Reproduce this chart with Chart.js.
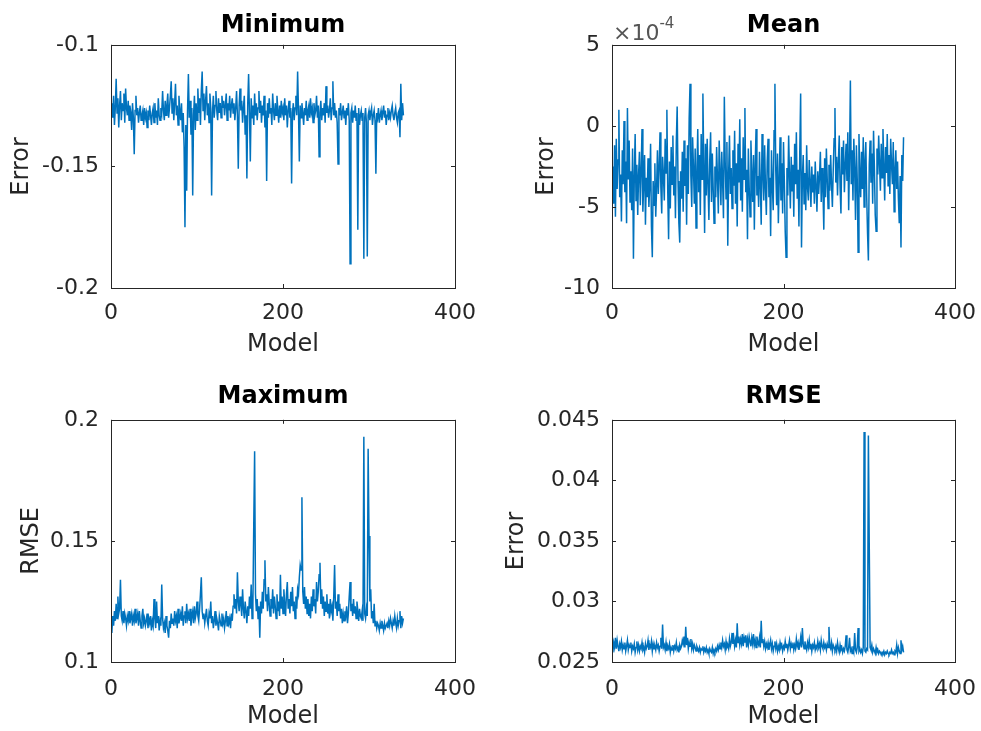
<!DOCTYPE html>
<html>
<head>
<meta charset="utf-8">
<script src="https://cdn.jsdelivr.net/npm/chart.js@4/dist/chart.umd.min.js"></script>
<style>
  body { margin: 0; background: #fff; }
  #wrap { position: relative; width: 981px; height: 731px; }
  canvas { position: absolute; }
</style>
</head>
<body>
<div id="wrap">
  <canvas id="cMin" width="490" height="365" style="left:0;top:0"></canvas>
  <canvas id="cMean" width="491" height="365" style="left:490px;top:0"></canvas>
  <canvas id="cMax" width="490" height="366" style="left:0;top:365px"></canvas>
  <canvas id="cRmse" width="491" height="366" style="left:490px;top:365px"></canvas>
</div>
<script>
// model index runs 1..340 for every panel
const minimumErr = [
  -0.124,-0.130,-0.121,-0.133,-0.126,-0.114,-0.128,-0.122,-0.134,-0.125,
  -0.119,-0.131,-0.124,-0.127,-0.120,-0.132,-0.118,-0.126,-0.129,-0.123,
  -0.131,-0.125,-0.128,-0.135,-0.124,-0.130,-0.145,-0.127,-0.121,-0.129,
  -0.126,-0.132,-0.128,-0.125,-0.131,-0.129,-0.127,-0.133,-0.126,-0.130,
  -0.128,-0.134,-0.127,-0.131,-0.125,-0.129,-0.133,-0.128,-0.126,-0.132,
  -0.124,-0.130,-0.127,-0.133,-0.122,-0.129,-0.131,-0.126,-0.128,-0.119,
  -0.127,-0.131,-0.123,-0.129,-0.125,-0.120,-0.130,-0.126,-0.121,-0.115,
  -0.128,-0.122,-0.131,-0.124,-0.116,-0.129,-0.125,-0.133,-0.121,-0.127,
  -0.131,-0.124,-0.136,-0.128,-0.142,-0.175,-0.133,-0.160,-0.127,-0.112,
  -0.130,-0.123,-0.137,-0.126,-0.162,-0.129,-0.121,-0.135,-0.124,-0.131,
  -0.118,-0.128,-0.122,-0.133,-0.119,-0.111,-0.127,-0.120,-0.131,-0.123,
  -0.117,-0.129,-0.124,-0.132,-0.120,-0.126,-0.162,-0.128,-0.121,-0.130,
  -0.125,-0.119,-0.127,-0.131,-0.122,-0.128,-0.124,-0.130,-0.121,-0.126,
  -0.123,-0.129,-0.125,-0.120,-0.131,-0.124,-0.127,-0.121,-0.130,-0.125,
  -0.122,-0.128,-0.124,-0.131,-0.126,-0.119,-0.129,-0.151,-0.125,-0.118,
  -0.127,-0.123,-0.132,-0.126,-0.121,-0.137,-0.129,-0.155,-0.124,-0.112,
  -0.128,-0.148,-0.122,-0.130,-0.125,-0.133,-0.120,-0.129,-0.124,-0.131,
  -0.126,-0.119,-0.128,-0.123,-0.132,-0.125,-0.129,-0.121,-0.134,-0.127,
  -0.156,-0.124,-0.130,-0.122,-0.128,-0.126,-0.133,-0.120,-0.127,-0.131,
  -0.124,-0.129,-0.121,-0.127,-0.132,-0.125,-0.130,-0.123,-0.128,-0.126,
  -0.131,-0.122,-0.129,-0.125,-0.134,-0.127,-0.123,-0.130,-0.126,-0.157,
  -0.128,-0.124,-0.131,-0.126,-0.121,-0.129,-0.111,-0.127,-0.148,-0.125,
  -0.130,-0.124,-0.128,-0.133,-0.126,-0.129,-0.123,-0.131,-0.127,-0.125,
  -0.130,-0.122,-0.128,-0.126,-0.132,-0.124,-0.129,-0.127,-0.121,-0.130,
  -0.125,-0.146,-0.128,-0.123,-0.131,-0.126,-0.129,-0.124,-0.132,-0.117,
  -0.128,-0.125,-0.130,-0.127,-0.122,-0.131,-0.126,-0.115,-0.129,-0.124,
  -0.130,-0.127,-0.132,-0.149,-0.126,-0.129,-0.124,-0.131,-0.128,-0.125,
  -0.130,-0.127,-0.133,-0.126,-0.129,-0.124,-0.131,-0.190,-0.128,-0.126,
  -0.132,-0.127,-0.130,-0.125,-0.131,-0.128,-0.176,-0.126,-0.133,-0.129,
  -0.127,-0.131,-0.128,-0.188,-0.130,-0.126,-0.132,-0.187,-0.129,-0.127,
  -0.131,-0.128,-0.126,-0.133,-0.129,-0.127,-0.131,-0.153,-0.128,-0.130,
  -0.126,-0.132,-0.129,-0.127,-0.131,-0.128,-0.125,-0.130,-0.127,-0.133,
  -0.129,-0.126,-0.131,-0.128,-0.130,-0.127,-0.125,-0.129,-0.131,-0.128,
  -0.126,-0.130,-0.132,-0.128,-0.127,-0.138,-0.116,-0.131,-0.124,-0.129
];

// mean error, in units of 1e-4 (axis shows the x10^-4 factor)
const meanErrE4 = [
  -2.5,-4.8,-1.2,-5.6,-0.8,-3.9,-2.1,1.0,-4.4,-3.0,
  -5.9,-1.5,-3.6,0.3,-4.1,-2.2,-6.0,1.1,-3.3,-0.9,
  -4.7,-2.8,-5.2,-1.4,-8.2,-3.1,-0.5,-4.6,-2.4,-5.5,
  -3.0,-1.6,-4.9,-2.7,-0.2,-5.3,-3.5,-1.8,-6.1,-3.2,
  -4.4,-2.0,-5.0,-3.7,-1.1,-6.2,-8.1,-3.4,-4.9,-2.3,
  -5.6,-3.9,-1.5,-4.2,-2.6,-0.4,-3.8,-5.4,-1.9,-3.1,
  -4.6,-0.8,-2.9,1.0,-4.0,-7.0,-2.2,-5.1,-1.3,-3.6,
  -0.6,-4.3,-2.5,-5.7,-1.0,1.2,-3.4,-6.0,-7.2,-2.8,
  -4.5,-1.6,-5.3,-0.9,-3.7,-2.0,-6.1,-1.2,-4.2,0.5,
  2.6,-3.1,-5.0,-0.7,-2.6,-4.8,-1.4,-6.3,-2.9,-0.2,
  -4.1,-1.8,-5.5,-0.5,-3.3,2.0,-2.4,-6.6,-1.1,-4.3,
  -0.8,-3.6,-5.8,-2.1,-0.4,-4.7,-1.7,-3.9,-6.0,-2.5,
  -4.4,-1.3,-3.2,-5.4,-0.9,-2.8,-4.9,-1.6,-3.4,-5.7,
  1.8,-2.2,-4.5,-1.0,-7.4,-3.0,-0.6,-4.2,-2.6,-5.1,
  -1.5,-3.7,-0.3,-4.8,-2.3,-6.2,-1.1,-3.5,0.4,-4.6,
  -2.0,-5.3,-0.7,-3.3,1.1,-4.1,-2.7,-7.0,-1.4,-3.8,
  -5.6,-0.9,-3.0,-4.7,-1.8,-6.4,-2.4,-0.2,-4.3,-3.1,
  -5.0,-1.6,-3.6,-6.1,-0.5,-2.9,-4.6,-1.2,-3.9,-5.5,
  -2.2,-0.8,-4.4,-3.2,-6.8,-1.5,-3.7,-5.2,-0.3,2.6,
  -2.8,-4.9,-1.7,-6.0,-3.4,-0.7,-4.6,-2.3,-5.4,-1.0,
  -3.5,-6.5,-8.1,-2.6,-4.3,-0.6,-3.0,-5.1,-1.9,-4.0,
  -2.4,-5.6,-1.1,-3.6,-0.4,-4.5,-2.7,-6.2,-1.5,2.0,
  -7.5,-3.2,-1.8,-4.8,-2.9,-5.2,-1.2,-3.8,-4.6,-2.1,
  -3.4,-5.0,-2.5,-4.1,-3.0,-4.8,-2.2,-3.7,-5.3,-2.8,
  -4.2,-3.1,-1.6,-4.7,-2.6,-3.9,-6.4,-2.0,-4.4,-1.4,
  -3.3,-5.1,-2.4,-4.0,-1.8,-3.6,-5.0,-2.7,-0.8,1.1,
  -3.5,-1.9,-4.3,-2.2,-0.6,-3.8,-5.4,-1.3,-3.0,-0.9,
  -4.1,-2.5,-1.1,-3.4,-0.4,-5.2,-2.0,2.8,-3.6,-1.5,
  -4.6,-0.8,-2.7,-5.8,-1.2,-3.3,-7.8,-0.5,-2.9,-4.4,
  -1.6,-3.9,-0.7,-5.0,-2.2,-1.0,-4.3,-6.6,-8.3,-2.4,
  -0.9,-3.5,-1.7,-4.8,-0.3,-2.6,-5.5,-6.5,-1.4,-3.0,
  -0.6,-2.3,-4.0,-1.1,-3.2,-0.2,-2.5,-4.6,-1.3,-2.9,
  -0.5,-3.7,-1.8,-4.2,-0.8,-2.4,-3.6,-1.0,-5.3,-2.7,
  -1.5,-3.9,-2.2,-4.5,-6.0,-3.1,-7.5,-1.8,-3.4,-0.7
];

const maximumErr = [
  0.112,0.119,0.115,0.121,0.117,0.124,0.118,0.127,0.120,0.122,
  0.134,0.119,0.117,0.121,0.116,0.120,0.118,0.115,0.119,0.117,
  0.121,0.116,0.118,0.120,0.115,0.119,0.117,0.122,0.116,0.118,
  0.120,0.115,0.121,0.117,0.114,0.119,0.122,0.116,0.118,0.115,
  0.117,0.120,0.114,0.118,0.116,0.119,0.113,0.117,0.115,0.126,
  0.118,0.114,0.125,0.116,0.119,0.113,0.117,0.115,0.132,0.118,
  0.114,0.116,0.112,0.119,0.115,0.113,0.110,0.117,0.114,0.120,
  0.116,0.118,0.115,0.121,0.117,0.119,0.114,0.122,0.116,0.118,
  0.120,0.117,0.123,0.115,0.119,0.121,0.116,0.124,0.118,0.120,
  0.117,0.122,0.115,0.119,0.121,0.116,0.123,0.118,0.120,0.125,
  0.119,0.117,0.122,0.128,0.135,0.121,0.118,0.120,0.116,0.119,
  0.122,0.117,0.115,0.120,0.118,0.125,0.116,0.119,0.114,0.117,
  0.121,0.115,0.118,0.116,0.113,0.119,0.117,0.115,0.120,0.116,
  0.118,0.114,0.117,0.121,0.115,0.119,0.116,0.118,0.114,0.120,
  0.117,0.123,0.128,0.122,0.126,0.120,0.137,0.125,0.121,0.127,
  0.124,0.119,0.130,0.122,0.118,0.125,0.121,0.116,0.123,0.119,
  0.127,0.122,0.132,0.118,0.124,0.157,0.187,0.128,0.121,0.126,
  0.118,0.123,0.110,0.125,0.120,0.129,0.122,0.134,0.142,0.125,
  0.128,0.121,0.131,0.124,0.119,0.126,0.122,0.130,0.120,0.127,
  0.123,0.118,0.128,0.121,0.125,0.119,0.136,0.122,0.127,0.120,
  0.130,0.124,0.119,0.128,0.133,0.122,0.126,0.120,0.129,0.123,
  0.131,0.121,0.125,0.118,0.127,0.122,0.130,0.128,0.135,0.140,
  0.138,0.168,0.129,0.124,0.131,0.122,0.127,0.120,0.126,0.119,
  0.124,0.118,0.127,0.121,0.130,0.123,0.126,0.120,0.133,0.125,
  0.129,0.136,0.141,0.124,0.130,0.122,0.127,0.119,0.125,0.121,
  0.128,0.120,0.124,0.118,0.126,0.121,0.123,0.117,0.127,0.140,
  0.122,0.125,0.119,0.128,0.121,0.124,0.118,0.122,0.116,0.120,
  0.117,0.121,0.119,0.123,0.116,0.120,0.127,0.133,0.121,0.124,
  0.119,0.126,0.120,0.123,0.118,0.125,0.121,0.117,0.122,0.119,
  0.118,0.121,0.117,0.193,0.120,0.118,0.122,0.119,0.188,0.152,
  0.125,0.130,0.118,0.121,0.116,0.124,0.115,0.117,0.114,0.116,
  0.115,0.113,0.116,0.114,0.117,0.115,0.113,0.116,0.114,0.115,
  0.116,0.114,0.117,0.115,0.118,0.116,0.114,0.117,0.115,0.119,
  0.116,0.114,0.118,0.115,0.117,0.121,0.114,0.119,0.116,0.118
];

const rmseErr = [
  0.0258,0.0266,0.0262,0.0270,0.0261,0.0268,0.0263,0.0259,0.0265,0.0262,
  0.0267,0.0260,0.0264,0.0261,0.0266,0.0259,0.0263,0.0268,0.0260,0.0264,
  0.0262,0.0266,0.0259,0.0263,0.0261,0.0265,0.0258,0.0262,0.0267,0.0260,
  0.0264,0.0259,0.0263,0.0261,0.0266,0.0260,0.0262,0.0258,0.0265,0.0261,
  0.0263,0.0268,0.0260,0.0264,0.0262,0.0267,0.0259,0.0265,0.0261,0.0263,
  0.0260,0.0266,0.0262,0.0264,0.0259,0.0263,0.0270,0.0261,0.0281,0.0262,
  0.0264,0.0260,0.0266,0.0259,0.0263,0.0261,0.0265,0.0258,0.0262,0.0260,
  0.0264,0.0259,0.0263,0.0261,0.0266,0.0260,0.0262,0.0258,0.0264,0.0261,
  0.0263,0.0268,0.0265,0.0271,0.0262,0.0279,0.0264,0.0270,0.0261,0.0266,
  0.0263,0.0269,0.0261,0.0265,0.0260,0.0264,0.0262,0.0259,0.0263,0.0261,
  0.0259,0.0262,0.0258,0.0261,0.0260,0.0263,0.0258,0.0261,0.0259,0.0262,
  0.0258,0.0260,0.0257,0.0261,0.0259,0.0258,0.0262,0.0257,0.0260,0.0258,
  0.0261,0.0259,0.0263,0.0260,0.0264,0.0261,0.0266,0.0262,0.0268,0.0263,
  0.0265,0.0260,0.0267,0.0262,0.0264,0.0261,0.0269,0.0263,0.0266,0.0274,
  0.0265,0.0270,0.0263,0.0268,0.0262,0.0282,0.0266,0.0271,0.0264,0.0269,
  0.0265,0.0273,0.0263,0.0270,0.0266,0.0272,0.0262,0.0269,0.0264,0.0271,
  0.0267,0.0263,0.0270,0.0265,0.0273,0.0264,0.0268,0.0262,0.0271,0.0266,
  0.0264,0.0270,0.0262,0.0284,0.0266,0.0269,0.0263,0.0267,0.0261,0.0265,
  0.0262,0.0266,0.0260,0.0264,0.0268,0.0261,0.0265,0.0259,0.0263,0.0267,
  0.0261,0.0265,0.0259,0.0263,0.0260,0.0266,0.0262,0.0264,0.0259,0.0263,
  0.0261,0.0267,0.0262,0.0265,0.0260,0.0264,0.0268,0.0261,0.0265,0.0262,
  0.0266,0.0260,0.0264,0.0261,0.0269,0.0263,0.0266,0.0260,0.0264,0.0270,
  0.0262,0.0278,0.0265,0.0261,0.0267,0.0263,0.0260,0.0266,0.0262,0.0268,
  0.0261,0.0265,0.0259,0.0264,0.0262,0.0266,0.0260,0.0263,0.0261,0.0267,
  0.0262,0.0265,0.0260,0.0268,0.0263,0.0261,0.0266,0.0262,0.0264,0.0260,
  0.0265,0.0262,0.0279,0.0263,0.0261,0.0266,0.0259,0.0264,0.0262,0.0260,
  0.0263,0.0259,0.0266,0.0261,0.0258,0.0264,0.0260,0.0262,0.0258,0.0261,
  0.0259,0.0263,0.0272,0.0260,0.0258,0.0262,0.0270,0.0259,0.0261,0.0257,
  0.0263,0.0259,0.0274,0.0260,0.0258,0.0262,0.0278,0.0259,0.0261,0.0258,
  0.0260,0.0257,0.0262,0.0440,0.0259,0.0258,0.0261,0.0260,0.0437,0.0347,
  0.0262,0.0260,0.0264,0.0258,0.0261,0.0259,0.0257,0.0262,0.0258,0.0260,
  0.0257,0.0259,0.0258,0.0256,0.0258,0.0257,0.0259,0.0256,0.0258,0.0257,
  0.0259,0.0257,0.0256,0.0258,0.0257,0.0260,0.0257,0.0258,0.0256,0.0259,
  0.0258,0.0264,0.0257,0.0262,0.0259,0.0257,0.0268,0.0260,0.0263,0.0258
];

const xTicks = [0, 200, 400];

const FONT = "'DejaVu Sans', sans-serif";
const AX_COLOR = "#262626";
const LINE_COLOR = "#0072BD";

// MATLAB style box with inward ticks on all four sides
const boxPlugin = {
  id: "matlabBox",
  afterDatasetsDraw(chart) {
    const { ctx, chartArea: a, scales } = chart;
    const len = 4;
    ctx.save();
    ctx.strokeStyle = AX_COLOR;
    ctx.lineWidth = 1;
    ctx.beginPath();
    scales.x.ticks.forEach(t => {
      const px = Math.round(scales.x.getPixelForValue(t.value)) + 0.5;
      ctx.moveTo(px, a.bottom); ctx.lineTo(px, a.bottom - len);
      ctx.moveTo(px, a.top); ctx.lineTo(px, a.top + len);
    });
    scales.y.ticks.forEach(t => {
      const py = Math.round(scales.y.getPixelForValue(t.value)) + 0.5;
      ctx.moveTo(a.left, py); ctx.lineTo(a.left + len, py);
      ctx.moveTo(a.right, py); ctx.lineTo(a.right - len, py);
    });
    ctx.stroke();
    ctx.strokeRect(Math.round(a.left) + 0.5, Math.round(a.top) + 0.5,
      Math.round(a.right - a.left), Math.round(a.bottom - a.top));
    const exp = chart.options.plugins.matlabBox && chart.options.plugins.matlabBox.exponent;
    if (exp) {
      ctx.fillStyle = "#555";
      ctx.textBaseline = "alphabetic";
      ctx.textAlign = "left";
      ctx.font = "22px " + FONT;
      ctx.fillText("\u00d710", a.left + 1, a.top - 5);
      const w = ctx.measureText("\u00d710").width;
      ctx.font = "15px " + FONT;
      ctx.fillText(exp, a.left + 1 + w, a.top - 17);
    }
    ctx.restore();
  }
};

function fmt(v) {
  return String(Number(v.toFixed(6)));
}

function makePanel(id, cfg) {
  const pts = cfg.values.map((v, i) => ({ x: i + 1, y: v }));
  return new Chart(document.getElementById(id), {
    type: "line",
    data: {
      datasets: [{
        data: pts,
        borderColor: LINE_COLOR,
        borderWidth: 1.5,
        pointRadius: 0,
        tension: 0,
        fill: false
      }]
    },
    plugins: [boxPlugin],
    options: {
      responsive: false,
      animation: false,
      devicePixelRatio: 1,
      layout: { padding: { left: 0, right: cfg.padRight, top: 0, bottom: 0 } },
      plugins: {
        legend: { display: false },
        tooltip: { enabled: false },
        title: {
          display: true,
          fullSize: false,
          text: cfg.title,
          color: "#000",
          font: { family: FONT, size: 24, weight: "bold" },
          padding: { top: cfg.titleTop, bottom: cfg.titleBottom }
        },
        matlabBox: { exponent: cfg.exponent }
      },
      scales: {
        x: {
          type: "linear",
          min: 0, max: 400,
          afterBuildTicks: s => { s.ticks = xTicks.map(v => ({ value: v })); },
          afterFit: s => { s.height = cfg.xHeight; s.paddingLeft = 0; s.paddingRight = 0; },
          grid: { display: false, drawTicks: false },
          border: { display: false },
          ticks: {
            color: AX_COLOR, padding: cfg.xTickPad, maxRotation: 0,
            font: { family: FONT, size: 22 },
            callback: v => fmt(v)
          },
          title: {
            display: true, text: "Model", color: AX_COLOR,
            font: { family: FONT, size: 24 },
            padding: { top: 0, bottom: cfg.xTitlePad }
          }
        },
        y: {
          type: "linear",
          min: cfg.yMin, max: cfg.yMax,
          afterBuildTicks: s => { s.ticks = cfg.yTicks.map(v => ({ value: v })); },
          afterFit: s => { s.width = cfg.yWidth; s.paddingTop = 0; s.paddingBottom = 0; },
          grid: { display: false, drawTicks: false },
          border: { display: false },
          ticks: {
            color: AX_COLOR, padding: 12,
            font: { family: FONT, size: 22 },
            callback: v => fmt(v)
          },
          title: {
            display: true, text: cfg.yLabel, color: AX_COLOR,
            font: { family: FONT, size: 24 },
            padding: { top: cfg.yTitlePad, bottom: 0 }
          }
        }
      }
    }
  });
}

makePanel("cMin", {
  values: minimumErr, title: "Minimum", yLabel: "Error",
  yMin: -0.2, yMax: -0.1, yTicks: [-0.2, -0.15, -0.1],
  yWidth: 111, padRight: 35, titleTop: 11, titleBottom: 5,
  xHeight: 77, xTickPad: 12, xTitlePad: 6, yTitlePad: 7
});
makePanel("cMean", {
  values: meanErrE4, title: "Mean", yLabel: "Error", exponent: "-4",
  yMin: -10, yMax: 5, yTicks: [-10, -5, 0, 5],
  yWidth: 122, padRight: 26, titleTop: 11, titleBottom: 5,
  xHeight: 77, xTickPad: 12, xTitlePad: 6, yTitlePad: 42
});
makePanel("cMax", {
  values: maximumErr, title: "Maximum", yLabel: "RMSE",
  yMin: 0.1, yMax: 0.2, yTicks: [0.1, 0.15, 0.2],
  yWidth: 111, padRight: 35, titleTop: 17, titleBottom: 9,
  xHeight: 69, xTickPad: 14, xTitlePad: 0, yTitlePad: 17
});
makePanel("cRmse", {
  values: rmseErr, title: "RMSE", yLabel: "Error",
  yMin: 0.025, yMax: 0.045, yTicks: [0.025, 0.03, 0.035, 0.04, 0.045],
  yWidth: 122, padRight: 26, titleTop: 17, titleBottom: 9,
  xHeight: 69, xTickPad: 14, xTitlePad: 0, yTitlePad: 12
});
</script>
</body>
</html>
